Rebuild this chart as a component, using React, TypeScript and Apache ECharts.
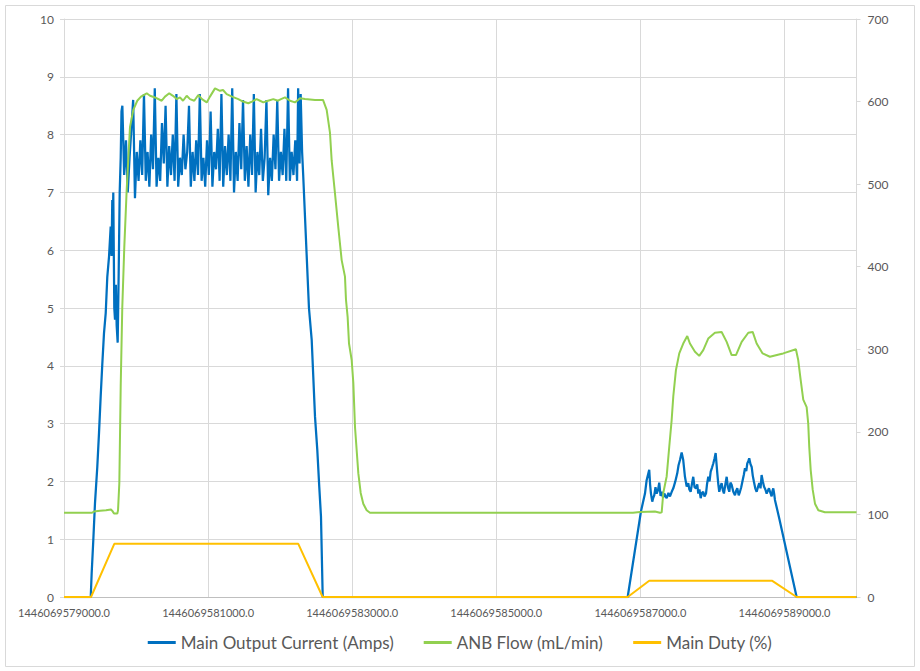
import React, { useEffect, useRef } from "react";
import * as echarts from "echarts";

// time offsets in ms from BASE_TIME
const BASE_TIME = 1446069579000;
const X_MAX = 11000;
const X_STEP = 2000;

const mainCurrent: [number, number][] = [
  [0, 0], [371, 0], [384, 0.41], [407, 0.99], [430, 1.62], [462, 2.25], [486, 2.84], [509, 3.47],
  [532, 4.04], [555, 4.56], [579, 4.91], [601, 5.54], [625, 5.89], [648, 6.41], [660, 5.9],
  [670, 6.87], [677, 6.3], [684, 7.0], [698, 5.0], [708, 4.8], [720, 5.4], [731, 4.7], [745, 4.4],
  [759, 5.6], [773, 7.0], [787, 7.6], [798, 8.4],
  [810, 8.5], [835, 7.3], [860, 7.9], [885, 7.0], [910, 7.6], [935, 8.1],
  [960, 8.6], [985, 6.9], [1010, 7.7], [1035, 7.2], [1060, 7.9], [1085, 7.3],
  [1110, 8.7], [1135, 7.2], [1160, 7.7], [1185, 7.1], [1210, 8.0], [1235, 7.4],
  [1260, 8.8], [1285, 7.1], [1310, 7.6], [1335, 7.2], [1360, 8.2], [1385, 7.5],
  [1410, 8.5], [1435, 7.1], [1460, 7.8], [1485, 7.3], [1510, 8.0], [1535, 7.2],
  [1560, 8.7], [1585, 7.1], [1610, 7.6], [1635, 7.3], [1660, 8.0], [1685, 7.4], [1710, 7.7],
  [1735, 8.5], [1760, 7.1], [1785, 7.7], [1810, 7.2], [1835, 7.9], [1860, 7.3],
  [1885, 8.7], [1910, 7.2], [1935, 7.6], [1960, 7.1], [1985, 7.9], [2010, 7.3],
  [2035, 8.4], [2060, 7.1], [2085, 7.7], [2110, 7.4], [2135, 8.1], [2160, 7.2],
  [2185, 8.7], [2210, 7.1], [2235, 7.8], [2260, 7.3], [2285, 8.0], [2310, 7.2],
  [2335, 8.8], [2360, 7.0], [2385, 7.7], [2410, 7.2], [2435, 8.2], [2460, 7.4],
  [2485, 8.6], [2510, 7.2], [2535, 7.8], [2560, 7.1], [2585, 8.0], [2610, 7.3],
  [2635, 8.7], [2660, 7.0], [2685, 7.7], [2710, 7.3], [2735, 8.1], [2760, 7.2], [2785, 7.6],
  [2810, 8.6], [2835, 6.95], [2860, 7.6], [2885, 7.2], [2910, 8.0], [2935, 7.4],
  [2960, 8.6], [2985, 7.2], [3010, 7.7], [3035, 7.3], [3060, 8.1], [3085, 7.2],
  [3110, 8.8], [3135, 7.2], [3160, 7.7], [3185, 7.3], [3210, 7.9], [3235, 7.2],
  [3250, 8.8], [3270, 7.5], [3285, 8.7], [3305, 7.7], [3320, 7.3],
  [3400, 5.0], [3438, 4.45], [3484, 3.12], [3516, 2.54], [3543, 1.91], [3567, 1.39], [3591, 0],
  [7824, 0], [8008, 1.48], [8064, 1.79], [8087, 2.02], [8123, 2.2], [8135, 1.95], [8147, 1.79],
  [8165, 1.65], [8180, 1.72], [8193, 1.76], [8210, 1.9], [8226, 1.79], [8245, 1.85], [8262, 1.98],
  [8280, 1.75], [8296, 1.82], [8315, 1.72], [8332, 1.79], [8350, 1.74], [8365, 1.71], [8390, 1.8],
  [8411, 1.74], [8435, 1.82], [8457, 1.88], [8485, 2.0], [8512, 2.14], [8530, 2.28], [8550, 2.37],
  [8573, 2.5], [8595, 2.37], [8619, 2.08], [8643, 1.91], [8665, 1.97], [8680, 1.86], [8698, 1.82],
  [8715, 1.95], [8734, 2.08], [8752, 1.9], [8772, 1.88], [8790, 1.95], [8804, 1.79], [8820, 1.86],
  [8837, 1.71], [8855, 1.8], [8873, 1.82], [8890, 1.74], [8911, 1.79], [8925, 1.95], [8943, 2.08],
  [8960, 2.0], [8976, 2.17], [8995, 2.24], [9012, 2.31], [9030, 2.4], [9045, 2.49], [9068, 2.14],
  [9082, 1.95], [9095, 1.82], [9110, 1.9], [9128, 1.97], [9145, 1.85], [9160, 1.79], [9180, 1.95],
  [9198, 2.08], [9215, 1.9], [9234, 1.82], [9250, 1.98], [9267, 1.94], [9290, 1.82], [9313, 1.76],
  [9330, 1.84], [9345, 1.88], [9365, 1.76], [9382, 1.82], [9400, 1.9], [9420, 2.02], [9437, 2.12],
  [9452, 2.23], [9470, 2.18], [9484, 2.31], [9498, 2.35], [9511, 2.4], [9528, 2.3], [9545, 2.25],
  [9560, 2.1], [9577, 1.99], [9595, 1.88], [9614, 1.82], [9632, 1.9], [9650, 1.97], [9668, 1.88],
  [9683, 2.11], [9700, 2.0], [9716, 1.91], [9735, 1.86], [9753, 1.79], [9770, 1.84], [9785, 1.88],
  [9805, 1.8], [9822, 1.74], [9835, 1.84], [9845, 1.88], [9858, 1.78], [9868, 1.68], [9928, 1.36],
  [10169, 0], [11000, 0],
];

const anbFlow: [number, number][] = [
  [0, 102], [389, 102], [416, 103.5], [500, 104.5], [583, 105], [652, 106], [673, 104], [694, 101],
  [740, 101], [750, 105], [768, 138], [787, 255], [809, 351], [837, 424], [870, 493], [916, 569],
  [962, 590], [1017, 601], [1069, 606], [1148, 610], [1194, 607], [1263, 605], [1356, 601],
  [1402, 606], [1461, 610], [1513, 607], [1564, 603], [1610, 605], [1652, 601], [1703, 607],
  [1749, 603], [1808, 601], [1864, 608], [1915, 603], [1981, 599], [2026, 606], [2096, 616],
  [2165, 613], [2207, 614], [2258, 609], [2332, 606], [2419, 603], [2484, 600], [2558, 598],
  [2609, 600], [2674, 603], [2720, 601], [2766, 599], [2831, 601], [2905, 603], [2970, 601],
  [3012, 603], [3067, 605], [3137, 601], [3206, 599], [3248, 602], [3275, 604], [3345, 603],
  [3484, 602], [3595, 602], [3646, 590], [3692, 562], [3715, 529], [3761, 489], [3807, 448],
  [3854, 408], [3900, 388], [3914, 360], [3937, 339], [3956, 307], [3993, 287], [4016, 259],
  [4039, 206], [4062, 178], [4085, 150], [4118, 126], [4154, 113], [4201, 105], [4247, 102],
  [7897, 102], [7994, 103], [8202, 103.5], [8272, 102], [8296, 102.5], [8318, 126], [8365, 146],
  [8401, 182], [8434, 214], [8457, 243], [8494, 275], [8540, 295], [8595, 307], [8651, 316],
  [8688, 307], [8758, 297], [8817, 292], [8873, 299], [8942, 313], [9035, 320], [9128, 321],
  [9198, 309], [9267, 293], [9327, 293], [9406, 309], [9498, 320], [9559, 321], [9614, 307],
  [9697, 295], [9798, 291], [9937, 294], [9983, 295], [10159, 300], [10191, 287], [10225, 263],
  [10261, 239], [10308, 230], [10330, 210], [10344, 182], [10364, 154], [10392, 130], [10424, 113],
  [10470, 105], [10562, 102.6], [11000, 102.6],
];

const mainDuty: [number, number][] = [
  [0, 0], [375, 0], [698, 0.92], [3252, 0.92], [3590, 0], [7824, 0], [8123, 0.28], [9831, 0.28],
  [10169, 0], [11000, 0],
];

const seriesNames = ["Main Output Current (Amps)", "ANB Flow (mL/min)", "Main Duty (%)"];
const seriesColors = ["#0070C0", "#92D050", "#FFC000"];

const FONT = "Lato, 'Liberation Sans', sans-serif";
const TEXT_COLOR = "#595959";
const GRID_COLOR = "#D9D9D9";

export default function App() {
  const ref = useRef<HTMLDivElement>(null);
  useEffect(() => {
    document.body.style.margin = "0";
    if (!ref.current) return;
    const chart = echarts.init(ref.current, null, { renderer: "svg" });
    chart.setOption({
      animation: false,
      backgroundColor: "#ffffff",
      textStyle: { fontFamily: FONT },
      graphic: [
        {
          type: "rect",
          shape: { x: 5.5, y: 5.5, width: 909, height: 661 },
          style: { fill: "none", stroke: GRID_COLOR, lineWidth: 1 },
          silent: true,
        },
      ],
      grid: { left: 64, right: 63.5, top: 19, bottom: 74, containLabel: false },
      legend: {
        data: seriesNames,
        left: "center",
        top: 629,
        icon: "rect",
        itemWidth: 28,
        itemHeight: 3,
        itemGap: 30,
        textStyle: { fontSize: 17, color: TEXT_COLOR, fontFamily: FONT },
      },
      xAxis: {
        type: "value",
        min: 0,
        max: X_MAX,
        interval: X_STEP,
        axisLine: { show: true, lineStyle: { color: "#BFBFBF" } },
        axisTick: { show: false },
        splitLine: { show: true, lineStyle: { color: GRID_COLOR } },
        axisLabel: {
          color: TEXT_COLOR,
          fontSize: 11,
          fontFamily: FONT,
          margin: 10,
          showMaxLabel: false,
          formatter: (v: number) => (BASE_TIME + v).toFixed(1),
        },
      },
      yAxis: [
        {
          type: "value",
          min: 0,
          max: 10,
          interval: 1,
          axisLine: { show: true, lineStyle: { color: GRID_COLOR } },
          axisTick: { show: true, length: 4, lineStyle: { color: GRID_COLOR } },
          splitLine: { show: true, lineStyle: { color: GRID_COLOR } },
          axisLabel: { color: TEXT_COLOR, fontSize: 12, fontFamily: FONT, margin: 10 },
        },
        {
          type: "value",
          min: 0,
          max: 700,
          interval: 100,
          position: "right",
          axisLine: { show: true, lineStyle: { color: GRID_COLOR } },
          axisTick: { show: true, length: 4, lineStyle: { color: GRID_COLOR } },
          splitLine: { show: false },
          axisLabel: { color: TEXT_COLOR, fontSize: 12, fontFamily: FONT, margin: 11 },
        },
      ],
      series: [
        {
          name: seriesNames[0],
          type: "line",
          yAxisIndex: 0,
          data: mainCurrent,
          showSymbol: false,
          symbol: "none",
          color: seriesColors[0],
          lineStyle: { width: 2.25, color: seriesColors[0] },
        },
        {
          name: seriesNames[1],
          type: "line",
          yAxisIndex: 1,
          data: anbFlow,
          showSymbol: false,
          symbol: "none",
          color: seriesColors[1],
          lineStyle: { width: 2, color: seriesColors[1] },
        },
        {
          name: seriesNames[2],
          type: "line",
          yAxisIndex: 0,
          data: mainDuty,
          showSymbol: false,
          symbol: "none",
          color: seriesColors[2],
          lineStyle: { width: 2, color: seriesColors[2] },
        },
      ],
    });
    return () => chart.dispose();
  }, []);
  return <div ref={ref} style={{ width: 920, height: 671 }} />;
}
